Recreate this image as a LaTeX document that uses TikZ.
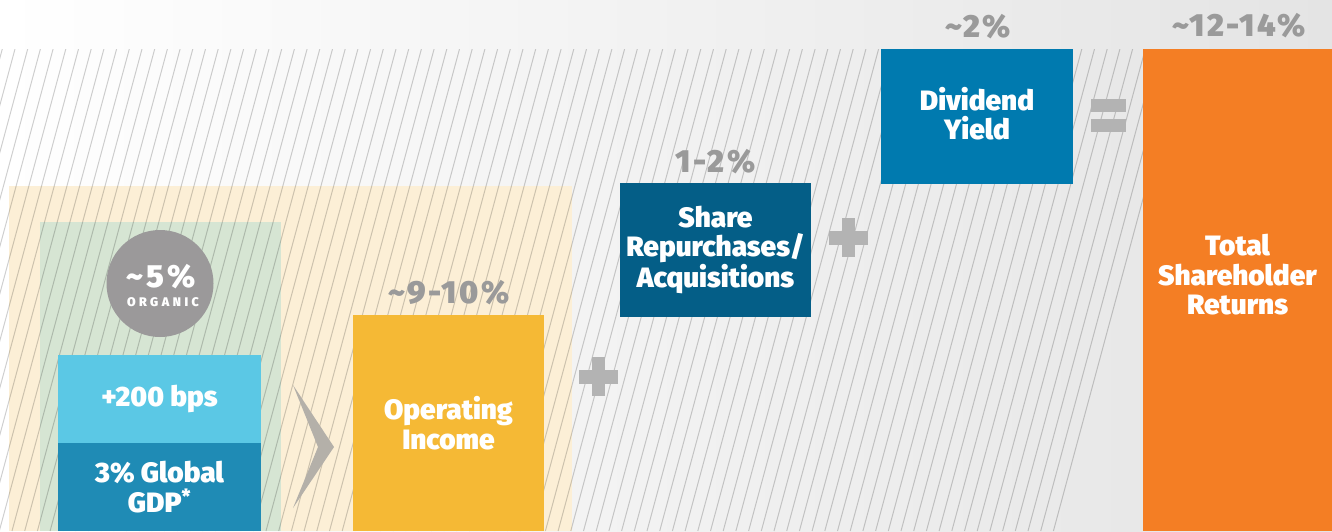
\documentclass[tikz,border=0pt]{standalone}
\usepackage{fontspec}
\setmainfont{Fira Sans}[BoldFont={Fira Sans Black}]
\begin{document}
\definecolor{beige}{HTML}{FCEFD6}
\definecolor{sage}{HTML}{D6E5D3}
\definecolor{disc}{HTML}{9B999A}
\definecolor{skyblue}{HTML}{5BC8E5}
\definecolor{midblue}{HTML}{1F8BB5}
\definecolor{gold}{HTML}{F5B935}
\definecolor{navy}{HTML}{045E87}
\definecolor{ocean}{HTML}{007AAF}
\definecolor{tangerine}{HTML}{F47E24}
\definecolor{signgray}{HTML}{B3B3B3}
\definecolor{pctgray}{HTML}{9A9A9A}
\definecolor{chevgray}{HTML}{B4B0A9}
\definecolor{bgright}{HTML}{E4E4E4}
\begin{tikzpicture}[x=1pt,y=-1pt,
  box/.style={rectangle, inner sep=0pt, outer sep=0pt, align=center,
    text=white, font=\bfseries\fontsize{28}{29.5}\selectfont},
  boxtext/.style={inner sep=0pt, align=center, text=white,
    font=\bfseries\fontsize{28}{29.5}\selectfont},
  pct/.style={anchor=base, inner sep=0pt, text=pctgray,
    font=\bfseries\fontsize{32}{34}\selectfont\addfontfeature{LetterSpace=8}},
  hatch/.style={draw=black, draw opacity=0.19, line width=1pt},
  sign/.style={fill=signgray}]
\useasboundingbox (0,0) rectangle (1332,531);

% background wash
\fill[left color=white, right color=bgright] (0,0) rectangle (1332,531);

% tinted panels
\fill[beige] (9,186) rectangle (572,531);
\fill[sage] (40,222) rectangle (281,531);

% diagonal hatching
\begin{scope}
  \clip (0,49) rectangle (1143,531);
  \foreach \k in {-12,...,92}
    \draw[hatch] ({15+12.7*\k},49) -- ++(-130,482);
\end{scope}

% organic growth disc
\node[circle, fill=disc, minimum size=107pt, inner sep=0pt] (organic) at (160,283.5) {};
\node[anchor=base, inner sep=0pt, text=white, font=\bfseries\fontsize{32}{34}\selectfont\addfontfeature{LetterSpace=10}] (orgpct) at (161,287) {\textasciitilde 5\%};
\node[anchor=base, inner sep=0pt, text=white, font=\bfseries\fontsize{12.5}{14}\selectfont\addfontfeature{LetterSpace=28}] (orgtxt) at (163,306) {ORGANIC};

% stacked growth boxes
\node[box, fill=skyblue, minimum width=203pt, minimum height=88pt] (bps) at (159.5,399) {+200 bps};
\node[box, fill=midblue, minimum width=203pt, minimum height=88pt] (gdp) at (159.5,487) {3\% Global\\GDP\textsuperscript{*}};

% chevron
\fill[chevgray] (293,385) -- (334,447) -- (293,508) -- (318,447) -- cycle;

% operating income
\node[pct] (oppct) at (449,303) {\textasciitilde 9-10\%};
\node[box, fill=gold, minimum width=191pt, minimum height=216pt] (opinc) at (448.5,423) {Operating\\Income};

% plus
\fill[sign] (579,370) rectangle (618,384);
\fill[sign] (592,357) rectangle (605,396);

% share repurchases
\node[pct] (sharepct) at (715.5,172) {1-2\%};
\node[box, fill=navy, minimum width=191pt, minimum height=134pt] (share) at (715.5,250) {Share\\Repurchases/\\Acquisitions};

% plus
\fill[sign] (829,231) rectangle (868,245);
\fill[sign] (842,218) rectangle (855,257);

% dividend yield
\node[pct] (divpct) at (978,37) {\textasciitilde 2\%};
\node[box, fill=ocean, minimum width=192pt, minimum height=135pt] (div) at (977,116.5) {};
\node[boxtext] (divtxt) at (977,113.5) {Dividend\\Yield};

% equals
\fill[sign] (1091,99) rectangle (1126,112);
\fill[sign] (1091,119) rectangle (1126,132);

% total shareholder returns
\node[pct] (tsrpct) at (1239,36) {\textasciitilde 12-14\%};
\node[box, fill=tangerine, minimum width=189pt, minimum height=482pt] (tsr) at (1237.5,290) {};
\node[boxtext] (tsrtxt) at (1237.5,275) {Total\\Shareholder\\Returns};
\end{tikzpicture}
\end{document}
